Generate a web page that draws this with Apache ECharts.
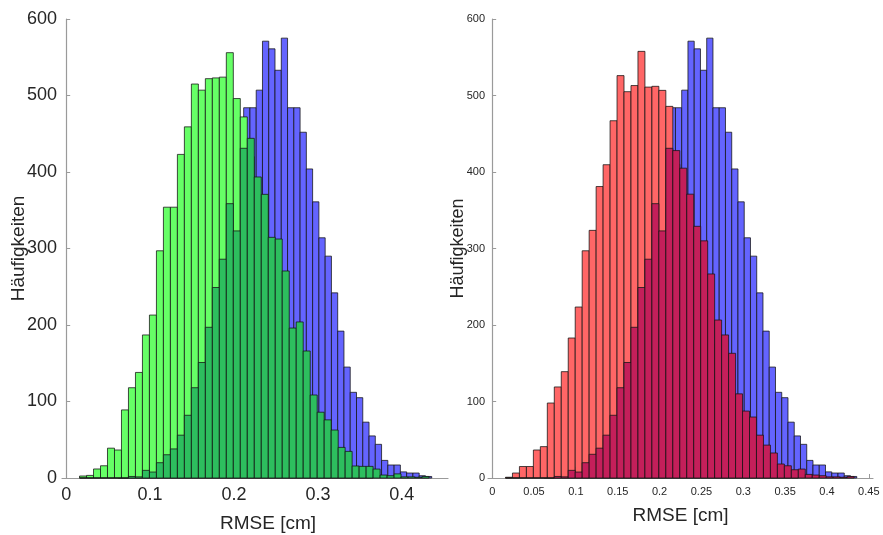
<!DOCTYPE html>
<html>
<head>
<meta charset="utf-8">
<script src="https://cdn.jsdelivr.net/npm/echarts@6/dist/echarts.min.js"></script>
<style>
html,body{margin:0;padding:0;background:#fff;}
#chart{width:883px;height:535px;}
</style>
</head>
<body>
<div id="chart"></div>
<script>
// ---- data ----
// shared bin grid for green / red histograms
const gridBinStart = 0.0159;
const gridBinWidth = 0.00833;
// blue histogram bins
const blueBinStart = 0.0621;
const blueBinWidth = 0.00747;

const blueCounts = [2, 3, 5, 7, 10, 14, 19, 26, 35, 48, 62, 80, 103, 130, 160, 195, 235, 280, 322, 365,
  484, 484, 507, 571, 561, 533, 575, 484, 484, 452, 404, 361, 314, 290, 242, 192, 145, 112, 105, 73,
  55, 44, 23, 17, 17, 8, 6.5, 6.5, 3, 2];

const lightGreenCounts = [2.6, 3.4, 11.8, 16, 39, 36.6, 89, 118, 138, 187, 213, 297, 354, 354, 423, 459,
  515, 507, 522, 523, 524, 556, 496, 472, 420, 370, 310, 260, 210, 170, 130, 100, 75, 55, 40, 28, 18, 12, 7, 4, 2, 1];

const darkGreenCounts = [0, 0, 0, 0, 0, 0, 0, 2, 1.5, 10, 7.8, 20, 30.4, 38, 56, 82, 118, 151, 197, 249,
  286, 358.6, 323, 431, 444, 393.5, 370.8, 314.6, 312.4, 270.6, 196, 204, 166, 108.5, 86, 76, 62.7, 40, 34.8,
  15.7, 15.2, 15.2, 11.7, 3.9, 3, 5.4, 1.5, 1.5, 1, 2];

const lightRedCounts = [1, 6.5, 15, 15, 36.6, 41, 98, 119, 139, 183, 223.5, 297, 323.7, 381, 409.5, 467,
  526, 505, 513, 557.7, 511, 512, 506.7, 485.8, 410, 360, 320, 270, 220, 175, 135, 100, 75, 55, 38, 26, 17, 11, 6, 4, 2, 1];

const crimsonCounts = [0, 0, 0, 0, 0, 0, 0, 2, 1.5, 10, 7.8, 20, 31, 39, 56, 82, 118, 151, 197, 249,
  286, 358.6, 323, 431, 428, 405, 371, 329, 310, 266.7, 206.5, 187, 163, 110, 87.5, 79.7, 56, 43, 32.7,
  18.3, 16, 10.8, 11.7, 4.7, 3.9, 3, 1.5, 1.5, 1, 2];

const xTicksLeft = [0, 0.1, 0.2, 0.3, 0.4];
const xTicksRight = [0, 0.05, 0.1, 0.15, 0.2, 0.25, 0.3, 0.35, 0.4, 0.45];
const xName = 'RMSE [cm]';
const yName = 'Häufigkeiten';

// ---- build ----
function bins(start, width, counts) {
  return counts.map((c, i) => [start + i * width, start + (i + 1) * width, c]);
}

function histSeries(idx, data, fill) {
  return {
    type: 'custom',
    xAxisIndex: idx,
    yAxisIndex: idx,
    encode: { x: [0, 1], y: 2 },
    data: data,
    renderItem: function (params, api) {
      const p0 = api.coord([api.value(0), api.value(2)]);
      const p1 = api.coord([api.value(1), 0]);
      return {
        type: 'rect',
        shape: { x: p0[0], y: p0[1], width: p1[0] - p0[0], height: p1[1] - p0[1] },
        style: { fill: fill, stroke: 'rgba(20,20,20,0.85)', lineWidth: 0.9 }
      };
    }
  };
}

const axisLineStyle = { show: true, lineStyle: { color: '#9a9a9a', width: 1.2 } };
const FONT = 'Liberation Sans, Arial, sans-serif';

function xAxis(idx, ticks, fontSize, nameGap, namePad) {
  return {
    gridIndex: idx, type: 'value', min: -0.005, max: 0.455,
    name: xName, nameLocation: 'middle', nameGap: nameGap, nameMoveOverlap: false,
    nameTextStyle: { fontSize: 19, color: '#262626', fontFamily: FONT, padding: namePad },
    axisLine: axisLineStyle,
    axisTick: { show: true, inside: true, length: 4, customValues: ticks, lineStyle: { color: '#9a9a9a' } },
    axisLabel: { customValues: ticks, fontSize: fontSize, color: '#262626', margin: 8, fontFamily: FONT },
    splitLine: { show: false }
  };
}

function yAxis(idx, fontSize, nameGap, margin, nameSize) {
  return {
    gridIndex: idx, type: 'value', min: 0, max: 600, interval: 100,
    name: yName, nameLocation: 'middle', nameGap: nameGap, nameMoveOverlap: false,
    nameTextStyle: { fontSize: nameSize, color: '#262626', fontFamily: FONT },
    axisLine: axisLineStyle,
    axisTick: { show: true, inside: true, length: 4, lineStyle: { color: '#9a9a9a' } },
    axisLabel: { fontSize: fontSize, color: '#262626', margin: margin, fontFamily: FONT },
    splitLine: { show: false }
  };
}

const chart = echarts.init(document.getElementById('chart'), null, { renderer: 'canvas' });
chart.setOption({
  backgroundColor: '#ffffff',
  animation: false,
  grid: [
    { left: 62, top: 19, width: 386, height: 459, containLabel: false, outerBoundsMode: 'none' },
    { left: 488, top: 19, width: 385, height: 459, containLabel: false, outerBoundsMode: 'none' }
  ],
  xAxis: [xAxis(0, xTicksLeft, 18, 36, [0, 0, 0, 26]), xAxis(1, xTicksRight, 11, 28, [0, 0, 0, 0])],
  yAxis: [yAxis(0, 18, 34, 5, 19), yAxis(1, 11, 21, 3, 18)],
  series: [
    histSeries(0, bins(blueBinStart, blueBinWidth, blueCounts), '#6464FF'),
    histSeries(0, bins(gridBinStart, gridBinWidth, lightGreenCounts), '#66FF66'),
    histSeries(0, bins(gridBinStart, gridBinWidth, darkGreenCounts), '#2DBE5E'),
    histSeries(1, bins(blueBinStart, blueBinWidth, blueCounts), '#6464FF'),
    histSeries(1, bins(gridBinStart, gridBinWidth, lightRedCounts), '#FF6666'),
    histSeries(1, bins(gridBinStart, gridBinWidth, crimsonCounts), '#C41F5A')
  ]
});
</script>
</body>
</html>
